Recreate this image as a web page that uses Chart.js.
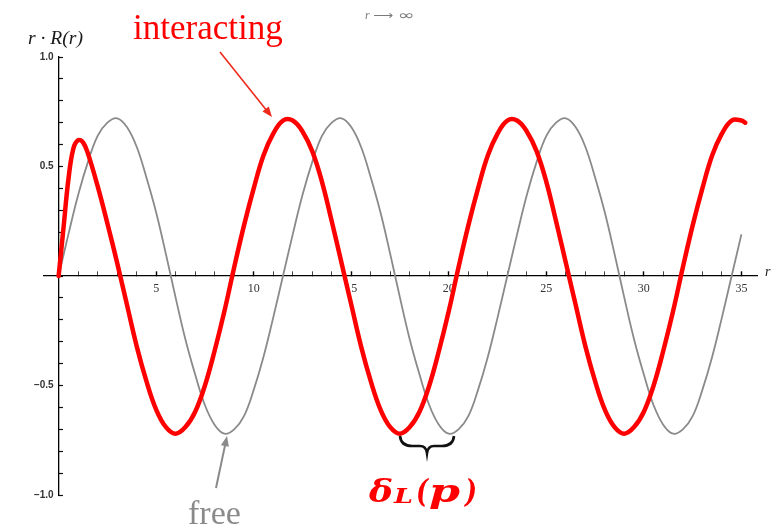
<!DOCTYPE html>
<html>
<head>
<meta charset="utf-8">
<script src="https://cdn.jsdelivr.net/npm/chart.js@4.4.1/dist/chart.umd.min.js"></script>
<style>
    html, body { margin: 0; padding: 0; background: #fff; }
    #wrap { width: 782px; height: 528px; position: relative; }
</style>
</head>
<body>
<div id="wrap"><canvas id="waveChart"></canvas></div>
<script>
// Radial wave function r·R(r): free vs interacting particle
const freeR = [0, 0.5, 1, 1.5, 2, 2.5, 3, 3.5, 4, 4.5, 5, 5.5, 6, 6.5, 7, 7.5, 8, 8.5, 9, 9.5,
    10, 10.5, 11, 11.5, 12, 12.5, 13, 13.5, 14, 14.5, 15, 15.5, 16, 16.5, 17, 17.5, 18, 18.5, 19, 19.5,
    20, 20.5, 21, 21.5, 22, 22.5, 23, 23.5, 24, 24.5, 25, 25.5, 26, 26.5, 27, 27.5, 28, 28.5, 29, 29.5,
    30, 30.5, 31, 31.5, 32, 32.5, 33, 33.5, 34, 34.5, 35];
const freeValues = [
    0, 0.19, 0.37, 0.52, 0.64, 0.70, 0.72, 0.68, 0.59, 0.45, 0.29, 0.10,
    -0.10, -0.29, -0.45, -0.59, -0.68, -0.72, -0.70, -0.64, -0.52, -0.37, -0.19,
    0, 0.19, 0.37, 0.52, 0.64, 0.70, 0.72, 0.68, 0.59, 0.45, 0.29, 0.10,
    -0.10, -0.29, -0.45, -0.59, -0.68, -0.72, -0.70, -0.64, -0.52, -0.37, -0.19,
    0, 0.19, 0.37, 0.52, 0.64, 0.70, 0.72, 0.68, 0.59, 0.45, 0.29, 0.10,
    -0.10, -0.29, -0.45, -0.59, -0.68, -0.72, -0.70, -0.64, -0.52, -0.37, -0.19,
    0, 0.19];

const interactingR = [0, 0.25, 0.5, 0.75, 1, 1.25, 1.5, 2, 2.5, 3, 3.5, 4, 4.5, 5, 5.5, 6, 6.5, 7, 7.5, 8,
    8.5, 9, 9.5, 10, 10.5, 11, 11.5, 12, 12.5, 13, 13.5, 14, 14.5, 15, 15.5, 16, 16.5, 17, 17.5, 18,
    18.5, 19, 19.5, 20, 20.5, 21, 21.5, 22, 22.5, 23, 23.5, 24, 24.5, 25, 25.5, 26, 26.5, 27, 27.5, 28,
    28.5, 29, 29.5, 30, 30.5, 31, 31.5, 32, 32.5, 33, 33.5, 34, 34.5, 35, 35.2];
const interactingValues = [
    0, 0.22, 0.44, 0.58, 0.62, 0.61, 0.56, 0.41, 0.24, 0.06,
    -0.13, -0.32, -0.48, -0.61, -0.69, -0.72, -0.69, -0.62, -0.50, -0.34, -0.16, 0.04, 0.23, 0.40, 0.55, 0.65,
    0.71, 0.71, 0.66, 0.57, 0.43, 0.25, 0.06, -0.13, -0.32, -0.48, -0.61, -0.69,
    -0.72, -0.69, -0.62, -0.50, -0.34, -0.16, 0.04, 0.23, 0.40, 0.55, 0.65,
    0.71, 0.71, 0.66, 0.57, 0.43, 0.25, 0.06, -0.13, -0.32, -0.48, -0.61, -0.69,
    -0.72, -0.69, -0.62, -0.50, -0.34, -0.16, 0.04, 0.23, 0.40, 0.55, 0.65,
    0.71, 0.71, 0.70];

const xLabelEvery = 5;
const yLabelValues = [-1, -0.5, 0.5, 1];

const RED = '#ff0000';
const GRAY = '#8a8a8a';

function toPoints(xs, ys) {
    return xs.map((x, i) => ({ x: x, y: ys[i] }));
}

/**
 * Arrow with a filled head at (x2, y2)
 */
function drawArrow(ctx, x1, y1, x2, y2, color, width, head) {
    const ang = Math.atan2(y2 - y1, x2 - x1);
    ctx.save();
    ctx.strokeStyle = color;
    ctx.fillStyle = color;
    ctx.lineWidth = width;
    ctx.beginPath();
    ctx.moveTo(x1, y1);
    ctx.lineTo(x2 - Math.cos(ang) * head * 0.8, y2 - Math.sin(ang) * head * 0.8);
    ctx.stroke();
    ctx.beginPath();
    ctx.moveTo(x2, y2);
    ctx.lineTo(x2 - head * Math.cos(ang - 0.38), y2 - head * Math.sin(ang - 0.38));
    ctx.lineTo(x2 - head * Math.cos(ang + 0.38), y2 - head * Math.sin(ang + 0.38));
    ctx.closePath();
    ctx.fill();
    ctx.restore();
}

/**
 * Text squeezed or stretched horizontally to a given width
 */
function fitText(ctx, text, x, y, width) {
    const w = ctx.measureText(text).width;
    ctx.save();
    ctx.translate(x, y);
    ctx.scale(width / w, 1);
    ctx.fillText(text, 0, 0);
    ctx.restore();
}

// Texts, arrows and the phase-shift brace around the plot
const annotations = {
    id: 'annotations',
    afterDraw(chart) {
        const ctx = chart.ctx;
        const xs = chart.scales.x;
        ctx.save();
        ctx.textBaseline = 'alphabetic';

        // title
        ctx.fillStyle = '#7a7a7a';
        ctx.font = 'italic 12px "Liberation Serif"';
        ctx.fillText('r', 365, 19);
        ctx.font = '12px "DejaVu Sans"';
        fitText(ctx, '\u27f6', 373, 19, 20);
        ctx.font = '14px "DejaVu Sans"';
        fitText(ctx, '\u221e', 398, 20, 17);

        // y axis title
        ctx.fillStyle = '#1a1a1a';
        ctx.font = 'italic 19px "Liberation Serif"';
        fitText(ctx, 'r \u00b7 R(r)', 28, 44, 55);

        // x axis name
        ctx.font = 'italic 14px "Liberation Serif"';
        ctx.fillText('r', xs.right + 8, 276);

        // interacting
        ctx.fillStyle = RED;
        ctx.font = '35px "Liberation Serif"';
        ctx.fillText('interacting', 133, 39);
        drawArrow(ctx, 220, 52, 272, 117, '#ee2a1a', 1.6, 11);

        // free
        ctx.fillStyle = GRAY;
        ctx.font = '34px "Liberation Serif"';
        ctx.fillText('free', 188, 524);
        drawArrow(ctx, 216, 488, 227, 436, GRAY, 2, 11);

        // brace
        ctx.strokeStyle = '#111';
        ctx.lineWidth = 2.6;
        ctx.beginPath();
        ctx.moveTo(400, 436);
        ctx.quadraticCurveTo(401, 446, 412, 446);
        ctx.lineTo(420, 446);
        ctx.quadraticCurveTo(426, 446, 427, 453);
        ctx.quadraticCurveTo(428, 446, 434, 446);
        ctx.lineTo(442, 446);
        ctx.quadraticCurveTo(453, 446, 454, 436);
        ctx.stroke();

        // delta_L(p)
        ctx.fillStyle = RED;
        ctx.font = 'bold italic 31px "DejaVu Serif"';
        fitText(ctx, '\u03b4', 369, 502, 24);
        ctx.font = 'bold italic 21px "DejaVu Serif"';
        fitText(ctx, 'L', 394, 503, 19);
        ctx.font = 'bold italic 32px "DejaVu Serif"';
        fitText(ctx, '(', 416, 502, 12);
        fitText(ctx, 'p', 429, 502, 31);
        fitText(ctx, ')', 465, 502, 12);

        ctx.restore();
    }
};

const ctx = document.getElementById('waveChart').getContext('2d');
new Chart(ctx, {
    type: 'line',
    data: {
        datasets: [{
            label: 'interacting',
            data: toPoints(interactingR, interactingValues),
            borderColor: RED,
            borderWidth: 4.5,
            borderCapStyle: 'round',
            pointRadius: 0,
            tension: 0.4,
            fill: false
        }, {
            label: 'free',
            data: toPoints(freeR, freeValues),
            borderColor: GRAY,
            borderWidth: 1.8,
            pointRadius: 0,
            tension: 0.4,
            fill: false
        }]
    },
    options: {
        responsive: true,
        maintainAspectRatio: false,
        animation: false,
        layout: {
            padding: { left: 44, right: 25, top: 57, bottom: 33 }
        },
        plugins: {
            legend: { display: false },
            tooltip: { enabled: false }
        },
        scales: {
            x: {
                type: 'linear',
                position: { y: 0 },
                min: -0.75,
                max: 35.8,
                border: { display: true, color: '#000', width: 1.3 },
                grid: {
                    drawOnChartArea: false,
                    drawTicks: true,
                    tickLength: -5,
                    tickColor: c => (c.tick && c.tick.value % xLabelEvery === 0) ? '#000' : '#444',
                    tickWidth: c => (c.tick && c.tick.value % xLabelEvery === 0) ? 1.4 : 1
                },
                ticks: {
                    stepSize: 1,
                    includeBounds: false,
                    autoSkip: false,
                    maxRotation: 0,
                    padding: 11,
                    color: '#333',
                    font: { family: '"Liberation Serif"', size: 12 },
                    callback: v => (v !== 0 && v % xLabelEvery === 0) ? String(v) : ''
                }
            },
            y: {
                type: 'linear',
                position: { x: 0 },
                min: -1,
                max: 1,
                border: { display: true, color: '#000', width: 1.3 },
                grid: {
                    drawOnChartArea: false,
                    drawTicks: true,
                    tickLength: -5,
                    tickColor: '#111',
                    tickWidth: 1.2
                },
                ticks: {
                    stepSize: 0.1,
                    autoSkip: false,
                    color: '#333',
                    font: { family: '"Liberation Sans"', size: 10, weight: 'bold' },
                    callback: v => yLabelValues.some(t => Math.abs(t - v) < 1e-6)
                        ? v.toFixed(1).replace('-', '\u2212') + '\u2002' : ''
                }
            }
        }
    },
    plugins: [annotations]
});
</script>
</body>
</html>
